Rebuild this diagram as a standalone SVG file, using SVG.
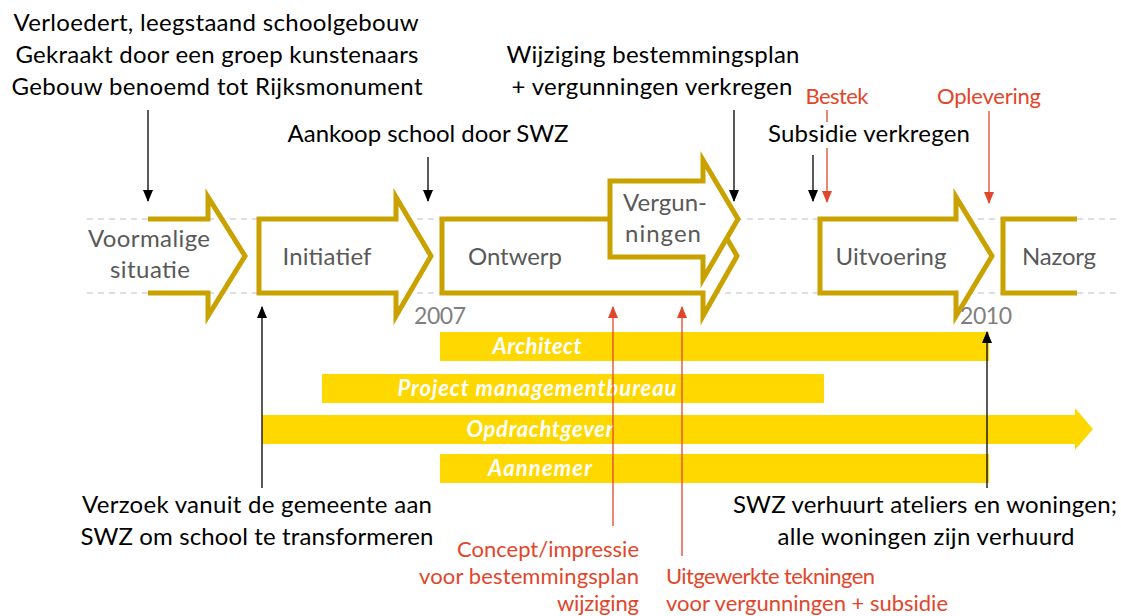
<svg xmlns="http://www.w3.org/2000/svg" width="1121" height="616" viewBox="0 0 1121 616">
  <style>
    .lbl { font-family: Lato, "Liberation Sans", sans-serif; font-size: 24px; fill: #000; }
    .red { font-family: Lato, "Liberation Sans", sans-serif; font-size: 22px; fill: #E2462A; }
    .phase { font-family: Lato, "Liberation Sans", sans-serif; font-size: 24px; fill: #595959; }
    .year { font-family: Lato, "Liberation Sans", sans-serif; font-size: 23px; fill: #7F7F7F; }
    .bar { fill: #FFD800; }
    .barlbl { font-family: Lato, "Liberation Sans", sans-serif; font-size: 22px; font-weight: bold; font-style: italic; fill: #fff; text-anchor: middle; }
    .stage { stroke: #C9A200; stroke-width: 5; fill: #fff; }
    .open { stroke: #C9A200; stroke-width: 5; fill: none; }
    .guide { stroke: #BFBFBF; stroke-width: 1; stroke-dasharray: 6 5; }
    .blk { stroke: #000; stroke-width: 1.3; fill: none; marker-end: url(#headBlack); }
    .rl { stroke: #E2462A; stroke-width: 1.3; fill: none; }
    .rla { stroke: #E2462A; stroke-width: 1.3; fill: none; marker-end: url(#headRed); }
  </style>
  <defs>
    <marker id="headBlack" viewBox="0 0 12 10" refX="11" refY="5" markerWidth="12" markerHeight="10" markerUnits="userSpaceOnUse" orient="auto">
      <path d="M0,0 L12,5 L0,10 Z" fill="#000"/>
    </marker>
    <marker id="headRed" viewBox="0 0 12 10" refX="11" refY="5" markerWidth="12" markerHeight="10" markerUnits="userSpaceOnUse" orient="auto">
      <path d="M0,0 L12,5 L0,10 Z" fill="#E2462A"/>
    </marker>
  </defs>

  <rect width="1121" height="616" fill="#fff"/>

  <!-- timeline guides -->
  <g id="guides">
    <line class="guide" x1="87" y1="219" x2="1118" y2="219"/>
    <line class="guide" x1="87" y1="293" x2="1118" y2="293"/>
  </g>

  <!-- phase arrows -->
  <g id="voormalige">
    <path class="open" d="M148,219 H208 V197 L245,256 L208,316 V293 H148"/>
    <text class="phase" text-anchor="middle" x="149" y="247" textLength="122">Voormalige</text>
    <text class="phase" text-anchor="middle" x="150" y="278" textLength="80">situatie</text>
  </g>
  <g id="initiatief">
    <path class="stage" d="M259,219 H396 V197 L431,256 L396,316 V293 H259 Z"/>
    <text class="phase" text-anchor="middle" x="327" y="265" textLength="89">Initiatief</text>
  </g>
  <g id="ontwerp">
    <path class="stage" d="M442,219 H703 V197 L737,256 L703,316 V293 H442 Z"/>
    <text class="phase" text-anchor="middle" x="515" y="265" textLength="94">Ontwerp</text>
  </g>
  <g id="vergunningen">
    <path class="stage" d="M610,181 H703 V160 L738,219 L703,279 V257 H610 Z"/>
    <text class="phase" text-anchor="middle" x="665" y="211" textLength="84">Vergun-</text>
    <text class="phase" text-anchor="middle" x="663" y="242" textLength="76">ningen</text>
  </g>
  <g id="uitvoering">
    <path class="stage" d="M820,219 H956 V197 L992,256 L956,316 V293 H820 Z"/>
    <text class="phase" text-anchor="middle" x="891" y="265" textLength="111">Uitvoering</text>
  </g>
  <g id="nazorg">
    <path class="open" d="M1077,219 H1003 V293 H1077"/>
    <text class="phase" text-anchor="middle" x="1059" y="265" textLength="74">Nazorg</text>
  </g>

  <g id="years">
    <text class="year" x="414" y="324" textLength="52">2007</text>
    <text class="year" x="960" y="324" textLength="52">2010</text>
  </g>

  <!-- parties -->
  <g id="architect">
    <rect class="bar" x="440" y="332" width="549" height="29"/>
    <text class="barlbl" x="537" y="354" textLength="89">Architect</text>
  </g>
  <g id="projectmanagement">
    <rect class="bar" x="322" y="374" width="502" height="29"/>
    <text class="barlbl" x="537" y="396" textLength="279">Project managementbureau</text>
  </g>
  <g id="opdrachtgever">
    <path class="bar" d="M262,415 H1075 V408 L1093,429 L1075,450 V444 H262 Z"/>
    <text class="barlbl" x="540" y="437" textLength="147">Opdrachtgever</text>
  </g>
  <g id="aannemer">
    <rect class="bar" x="440" y="454" width="549" height="29"/>
    <text class="barlbl" x="540" y="476" textLength="104">Aannemer</text>
  </g>

  <!-- event markers -->
  <g id="connectors">
    <line class="blk" x1="148" y1="110" x2="148" y2="201"/>
    <line class="blk" x1="428" y1="157" x2="428" y2="201"/>
    <line class="blk" x1="734" y1="110" x2="734" y2="201"/>
    <line class="blk" x1="813" y1="155" x2="813" y2="201"/>
    <line class="rl" x1="827" y1="110" x2="827" y2="122"/>
    <line class="rla" x1="827" y1="148" x2="827" y2="202"/>
    <line class="rla" x1="989" y1="111" x2="989" y2="203"/>
    <line class="blk" x1="262" y1="488" x2="262" y2="307"/>
    <line class="blk" x1="987" y1="488" x2="987" y2="332"/>
    <line class="rla" x1="613" y1="526" x2="613" y2="307"/>
    <line class="rla" x1="682" y1="556" x2="682" y2="307"/>
  </g>

  <!-- event labels -->
  <g id="label-verloedert">
    <text class="lbl" text-anchor="middle" x="216" y="31" textLength="405">Verloedert, leegstaand schoolgebouw</text>
    <text class="lbl" text-anchor="middle" x="217" y="63" textLength="403">Gekraakt door een groep kunstenaars</text>
    <text class="lbl" text-anchor="middle" x="217" y="95" textLength="411">Gebouw benoemd tot Rijksmonument</text>
  </g>
  <g id="label-aankoop">
    <text class="lbl" text-anchor="middle" x="428" y="142" textLength="281">Aankoop school door SWZ</text>
  </g>
  <g id="label-wijziging">
    <text class="lbl" text-anchor="middle" x="653" y="63" textLength="293">Wijziging bestemmingsplan</text>
    <text class="lbl" text-anchor="middle" x="652" y="95" textLength="281">+ vergunningen verkregen</text>
  </g>
  <g id="label-subsidie">
    <text class="lbl" text-anchor="middle" x="869" y="142" textLength="202">Subsidie verkregen</text>
  </g>
  <g id="label-bestek">
    <text class="red" text-anchor="middle" x="837" y="104" textLength="63">Bestek</text>
  </g>
  <g id="label-oplevering">
    <text class="red" text-anchor="middle" x="989" y="104" textLength="104">Oplevering</text>
  </g>
  <g id="label-verzoek">
    <text class="lbl" text-anchor="middle" x="257" y="513" textLength="350">Verzoek vanuit de gemeente aan</text>
    <text class="lbl" text-anchor="middle" x="257" y="545" textLength="353">SWZ om school te transformeren</text>
  </g>
  <g id="label-verhuur">
    <text class="lbl" text-anchor="middle" x="925" y="513" textLength="384">SWZ verhuurt ateliers en woningen;</text>
    <text class="lbl" text-anchor="middle" x="926" y="545" textLength="297">alle woningen zijn verhuurd</text>
  </g>
  <g id="label-concept">
    <text class="red" text-anchor="end" x="639" y="557" textLength="182">Concept/impressie</text>
    <text class="red" text-anchor="end" x="639" y="584" textLength="220">voor bestemmingsplan</text>
    <text class="red" text-anchor="end" x="639" y="611" textLength="82">wijziging</text>
  </g>
  <g id="label-tekeningen">
    <text class="red" x="666" y="584" textLength="209">Uitgewerkte tekningen</text>
    <text class="red" x="666" y="611" textLength="282">voor vergunningen + subsidie</text>
  </g>
</svg>
